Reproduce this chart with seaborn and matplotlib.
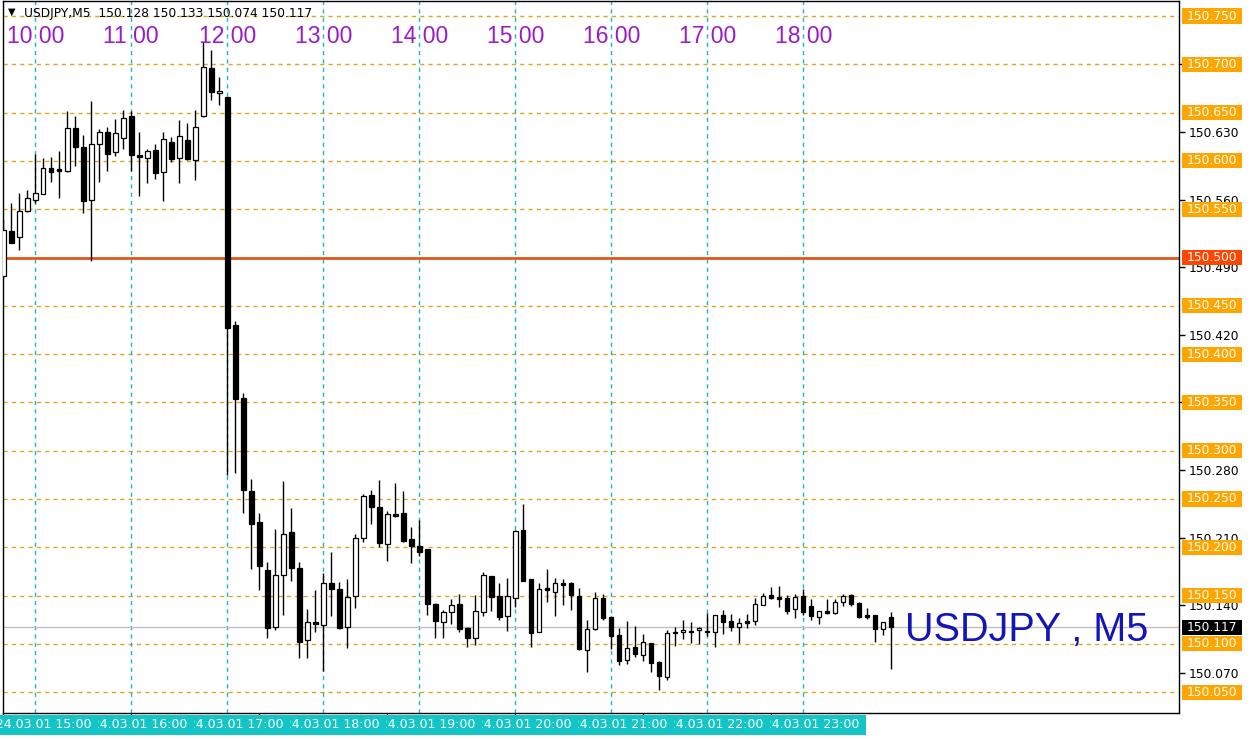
import numpy as np
import pandas as pd
import matplotlib
matplotlib.use("Agg")
import matplotlib.pyplot as plt
from matplotlib.patches import Rectangle
import seaborn as sns

# USDJPY M5 candles, 09:40 .. 18:55
opens = [150.481, 150.527, 150.521, 150.548, 150.560, 150.566, 150.593, 150.592, 150.590, 150.634,
         150.614, 150.560, 150.617, 150.630, 150.609, 150.624, 150.646, 150.606, 150.603, 150.611,
         150.588, 150.620, 150.603, 150.622, 150.601, 150.646, 150.696, 150.670, 150.666, 150.430,
         150.355, 150.258, 150.226, 150.176, 150.118, 150.171, 150.216, 150.179, 150.104, 150.123,
         150.120, 150.163, 150.157, 150.117, 150.150, 150.210, 150.254, 150.242, 150.203, 150.234,
         150.235, 150.209, 150.201, 150.198, 150.141, 150.123, 150.133, 150.141, 150.116, 150.106,
         150.133, 150.170, 150.150, 150.129, 150.148, 150.218, 150.167, 150.112, 150.158, 150.154,
         150.163, 150.163, 150.150, 150.094, 150.115, 150.148, 150.128, 150.109, 150.083, 150.097,
         150.089, 150.101, 150.081, 150.066, 150.112, 150.112, 150.113, 150.114, 150.113, 150.112,
         150.130, 150.124, 150.117, 150.123, 150.124, 150.140, 150.151, 150.149, 150.147, 150.136,
         150.150, 150.139, 150.128, 150.134, 150.132, 150.143, 150.151, 150.142, 150.130, 150.130,
         150.115, 150.128]
highs = [150.539, 150.556, 150.567, 150.570, 150.607, 150.603, 150.604, 150.610, 150.652, 150.646,
         150.627, 150.662, 150.633, 150.635, 150.643, 150.653, 150.652, 150.630, 150.612, 150.618,
         150.630, 150.625, 150.642, 150.639, 150.653, 150.723, 150.715, 150.687, 150.666, 150.434,
         150.360, 150.271, 150.235, 150.185, 150.219, 150.269, 150.241, 150.185, 150.136, 150.156,
         150.173, 150.195, 150.164, 150.167, 150.214, 150.255, 150.259, 150.270, 150.238, 150.267,
         150.258, 150.221, 150.228, 150.198, 150.142, 150.135, 150.146, 150.152, 150.118, 150.151,
         150.174, 150.170, 150.163, 150.168, 150.218, 150.245, 150.167, 150.163, 150.178, 150.168,
         150.167, 150.164, 150.158, 150.125, 150.154, 150.152, 150.129, 150.116, 150.124, 150.119,
         150.110, 150.101, 150.082, 150.114, 150.118, 150.125, 150.123, 150.118, 150.132, 150.130,
         150.135, 150.131, 150.127, 150.131, 150.148, 150.153, 150.159, 150.160, 150.151, 150.152,
         150.157, 150.146, 150.134, 150.146, 150.146, 150.152, 150.152, 150.143, 150.137, 150.130,
         150.123, 150.133]
lows = [150.479, 150.515, 150.508, 150.547, 150.556, 150.566, 150.578, 150.562, 150.589, 150.595,
        150.546, 150.496, 150.578, 150.590, 150.605, 150.612, 150.590, 150.564, 150.577, 150.581,
        150.559, 150.599, 150.577, 150.601, 150.580, 150.645, 150.663, 150.658, 150.275, 150.277,
        150.235, 150.178, 150.156, 150.106, 150.114, 150.130, 150.165, 150.085, 150.085, 150.112,
        150.072, 150.129, 150.115, 150.096, 150.137, 150.206, 150.224, 150.200, 150.186, 150.231,
        150.206, 150.184, 150.191, 150.130, 150.106, 150.106, 150.121, 150.112, 150.097, 150.099,
        150.129, 150.134, 150.125, 150.113, 150.138, 150.165, 150.097, 150.112, 150.143, 150.129,
        150.140, 150.135, 150.094, 150.071, 150.114, 150.125, 150.095, 150.078, 150.079, 150.086,
        150.082, 150.071, 150.052, 150.063, 150.098, 150.105, 150.101, 150.100, 150.108, 150.097,
        150.110, 150.113, 150.101, 150.116, 150.120, 150.140, 150.146, 150.138, 150.131, 150.127,
        150.130, 150.125, 150.121, 150.131, 150.131, 150.139, 150.139, 150.127, 150.126, 150.102,
        150.109, 150.074]
closes = [150.528, 150.515, 150.548, 150.562, 150.567, 150.593, 150.589, 150.590, 150.634, 150.614,
          150.559, 150.618, 150.630, 150.607, 150.629, 150.644, 150.606, 150.604, 150.610, 150.587,
          150.623, 150.602, 150.626, 150.602, 150.635, 150.697, 150.671, 150.672, 150.427, 150.354,
          150.259, 150.224, 150.181, 150.116, 150.171, 150.214, 150.179, 150.102, 150.123, 150.121,
          150.163, 150.157, 150.116, 150.149, 150.210, 150.253, 150.242, 150.204, 150.234, 150.232,
          150.207, 150.201, 150.195, 150.141, 150.124, 150.133, 150.140, 150.115, 150.106, 150.134,
          150.171, 150.149, 150.128, 150.150, 150.217, 150.165, 150.111, 150.157, 150.156, 150.163,
          150.161, 150.151, 150.095, 150.115, 150.147, 150.127, 150.108, 150.082, 150.096, 150.090,
          150.102, 150.080, 150.067, 150.111, 150.111, 150.114, 150.112, 150.116, 150.112, 150.130,
          150.123, 150.117, 150.122, 150.122, 150.141, 150.150, 150.147, 150.146, 150.134, 150.149,
          150.133, 150.129, 150.134, 150.132, 150.143, 150.150, 150.141, 150.128, 150.128, 150.115,
          150.123, 150.117]

grid_levels = [150.050, 150.100, 150.150, 150.200, 150.250, 150.300, 150.350, 150.400,
               150.450, 150.500, 150.550, 150.600, 150.650, 150.700, 150.750]
key_level = 150.500
last_price = 150.117
axis_ticks = [150.070, 150.140, 150.210, 150.280, 150.350, 150.420, 150.490, 150.560, 150.630, 150.700]
hour_labels = ["10 00", "11 00", "12 00", "13 00", "14 00", "15 00", "16 00", "17 00", "18 00"]
hour_bars = [4, 16, 28, 40, 52, 64, 76, 88, 100]
date_labels = ["2024.03.01 15:00", "2024.03.01 16:00", "2024.03.01 17:00", "2024.03.01 18:00",
               "2024.03.01 19:00", "2024.03.01 20:00", "2024.03.01 21:00", "2024.03.01 22:00",
               "2024.03.01 23:00"]
date_ticks = [0, 16, 32, 48, 64, 80, 96]
header = "USDJPY,M5  150.128 150.133 150.074 150.117"
watermark = "USDJPY , M5"

W, H = 1251, 739
PX = 8.0          # pixels per bar
X0 = 3.3          # pixel of bar 0
TOP, BOT = 0.5, 713

df = pd.DataFrame({"open": opens, "high": highs, "low": lows, "close": closes})
df["x"] = np.arange(len(df))
df["bottom"] = df[["open", "close"]].min(axis=1)
df["height"] = (df["close"] - df["open"]).abs().clip(lower=0.0016)
df["face"] = np.where(df["close"] > df["open"], "white", "black")

sns.set_theme(style="white")
plt.rcParams["font.family"] = ["DejaVu Sans"]

fig = plt.figure(figsize=(W / 100, H / 100), dpi=100)
ax = fig.add_axes([3 / W, 1 - BOT / H, 1176 / W, (BOT - TOP) / H])

def price(py):
    return 150.750 - (py - 16) / 966.0

ax.set_xlim((3 - X0) / PX, (1179 - X0) / PX)
ax.set_ylim(price(BOT), price(TOP))

# grid: orange dashed levels, cyan dashed hour separators
for lv in grid_levels:
    if lv == key_level:
        continue
    ax.axhline(lv, color="#DDA520", lw=1, dashes=(3, 3), zorder=1)
for xb in hour_bars:
    ax.axvline(xb, color="#1FB3C4", lw=1, dashes=(3, 3), zorder=1)
ax.axhline(last_price, color="#C0C0C0", lw=1, zorder=1)
ax.axhline(key_level, color="#E2561C", lw=2, zorder=1.5)

# candles
ax.vlines(df["x"], df["low"], df["high"], color="black", lw=1, zorder=2)
ax.bar(df["x"], df["height"], bottom=df["bottom"], width=0.55, color=df["face"],
       edgecolor="black", linewidth=0.9, zorder=3)

for xb, lab in zip(hour_bars, hour_labels):
    ax.text(xb, price(36.5), lab, ha="center", va="center", fontsize=16.5,
            color="#9B1BC9", family="Liberation Sans", zorder=4)

# axes look
for s in ["left", "bottom", "right", "top"]:
    ax.spines[s].set_color("black")
    ax.spines[s].set_linewidth(1)
ax.yaxis.tick_right()
ax.set_yticks(axis_ticks)
ax.set_yticklabels([f"{t:.3f}" for t in axis_ticks])
ax.tick_params(axis="y", right=True, left=False, length=4, width=1, color="black",
               labelsize=8.8, pad=3, labelcolor="black")
ax.set_xticks(date_ticks)
ax.set_xticklabels([])
ax.tick_params(axis="x", bottom=True, length=4, width=1, color="black", direction="out")

# right-side price boxes
ytr = ax.get_yaxis_transform()
bx0 = (1181.7 - 3) / 1176
bw = 60 / 1176
bh = 15 / 966.0

def price_box(lv, fc, z):
    ax.add_patch(Rectangle((bx0, lv - bh / 2), bw, bh, transform=ytr, fc=fc, ec="none",
                           clip_on=False, zorder=z))
    ax.text(bx0 + bw / 2, lv, f"{lv:.3f}", transform=ytr, ha="center", va="center",
            color="white", fontsize=8.8, clip_on=False, zorder=z + 0.5)

for lv in grid_levels:
    price_box(lv, "#FF4500" if lv == key_level else "#FFA500", 6)
price_box(last_price, "black", 7)

# header and watermark
fig.text(8 / W, 1 - 12 / H, "\u25bc", fontsize=7, va="center", color="black")
fig.text(24 / W, 1 - 13 / H, header, fontsize=8.8, va="center", color="black")
fig.text(905 / W, 1 - 641 / H, watermark, fontsize=28.5, family="Liberation Sans",
         color="#1414B8", va="baseline", ha="left")

# bottom date band: earlier labels drawn over the start of later ones
for k in reversed(range(len(date_labels))):
    r = 91 + 96 * k
    z = 2 * (20 - k)
    fig.add_artist(Rectangle(((r - 118) / W, 1 - 735 / H), 124.5 / W, 20 / H,
                             transform=fig.transFigure, fc="#14C5C8", ec="none", zorder=z))
    fig.text(r / W, 1 - 725 / H, date_labels[k], ha="right", va="center", fontsize=9,
             color="white", zorder=z + 1)

fig.savefig("out.png", dpi=100, facecolor="white")
